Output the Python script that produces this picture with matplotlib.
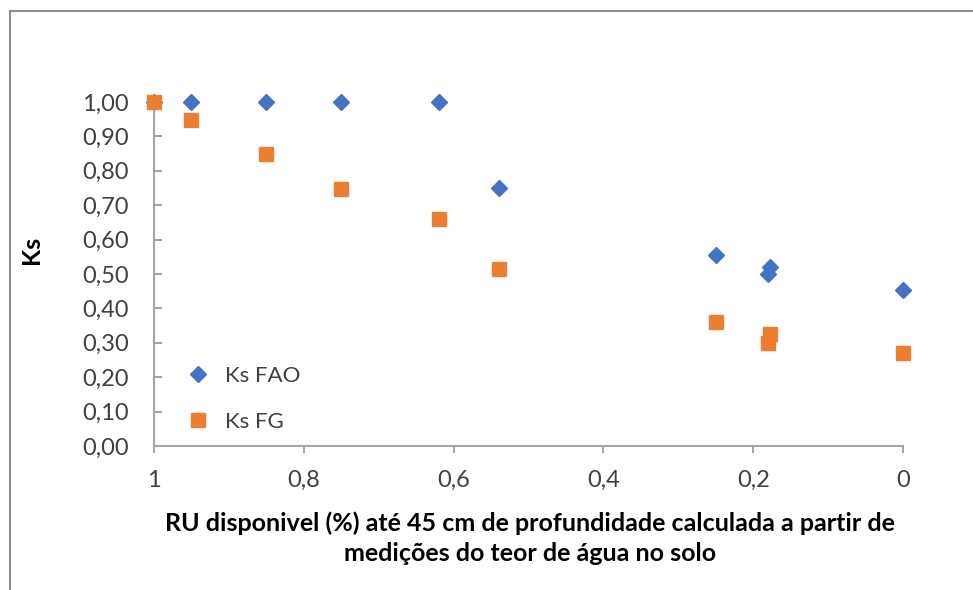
import matplotlib
matplotlib.use("Agg")
import matplotlib.pyplot as plt
from matplotlib.ticker import FuncFormatter, MultipleLocator
from matplotlib.lines import Line2D

plt.rcParams['font.family'] = ['Lato', 'DejaVu Sans']

# RU disponivel (fração) e valores de Ks
ru_fao = [1.00, 0.95, 0.85, 0.75, 0.62, 0.54, 0.25, 0.178, 0.18, 0.0]
ks_fao = [1.00, 1.00, 1.00, 1.00, 1.00, 0.75, 0.555, 0.52, 0.50, 0.453]

ru_fg = [1.00, 0.95, 0.85, 0.75, 0.62, 0.54, 0.25, 0.177, 0.18, 0.0]
ks_fg = [1.00, 0.948, 0.849, 0.747, 0.66, 0.515, 0.36, 0.326, 0.30, 0.27]

AX_COLOR = "#a6a6a6"
TXT_COLOR = "#404040"

fig = plt.figure(figsize=(9.73, 5.90), dpi=100)
ax = fig.add_axes([0.1583, 0.2441, 0.7698, 0.5830])

ax.plot(ru_fao, ks_fao, "D", color="#4472C4", markersize=8.5,
        linestyle="none", label="Ks FAO", clip_on=False, zorder=2)
ax.plot(ru_fg, ks_fg, "s", color="#ED7D31", markersize=9.5,
        linestyle="none", label="Ks FG", clip_on=False, zorder=3)

ax.set_xlim(1, 0)
ax.set_ylim(0, 1)
ax.xaxis.set_major_locator(MultipleLocator(0.2))
ax.yaxis.set_major_locator(MultipleLocator(0.1))


def fmt_x(v, pos):
    s = "%.1f" % v
    if s.endswith(".0"):
        s = s[:-2]
    return s.replace(".", ",")


ax.xaxis.set_major_formatter(FuncFormatter(fmt_x))
ax.yaxis.set_major_formatter(FuncFormatter(lambda v, p: ("%.2f" % v).replace(".", ",")))

for side in ["top", "right"]:
    ax.spines[side].set_visible(False)
for side in ["left", "bottom"]:
    ax.spines[side].set_color(AX_COLOR)
    ax.spines[side].set_linewidth(1.5)

ax.tick_params(axis="y", direction="in", length=6, width=1.5, color=AX_COLOR,
               labelsize=17, labelcolor=TXT_COLOR, pad=18)
ax.tick_params(axis="x", direction="out", length=5, width=1.5, color=AX_COLOR,
               labelsize=17, labelcolor=TXT_COLOR, pad=12)

ax.set_ylabel("Ks", fontsize=18, fontweight="bold", color="black")
ax.yaxis.set_label_coords(-0.148, 0.57)
ax.set_xlabel("RU disponivel (%) até 45 cm de profundidade calculada a partir de\n"
              "medições do teor de água no solo",
              fontsize=18, fontweight="bold", color="black", linespacing=1.38)
ax.xaxis.set_label_coords(0.502, -0.191)

ax.legend(loc="center left", bbox_to_anchor=(0.003, 0.137), frameon=False,
          fontsize=16, labelspacing=1.15, handletextpad=0.2,
          labelcolor=TXT_COLOR)

# chart border (only top and left visible in the crop)
fig.add_artist(Line2D([10 / 973, 10 / 973], [0, 1 - 11 / 590],
                      transform=fig.transFigure, color="#8c8c8c", linewidth=1.5))
fig.add_artist(Line2D([10 / 973, 1], [1 - 11 / 590, 1 - 11 / 590],
                      transform=fig.transFigure, color="#8c8c8c", linewidth=1.5))

fig.savefig("out.png", dpi=100)
